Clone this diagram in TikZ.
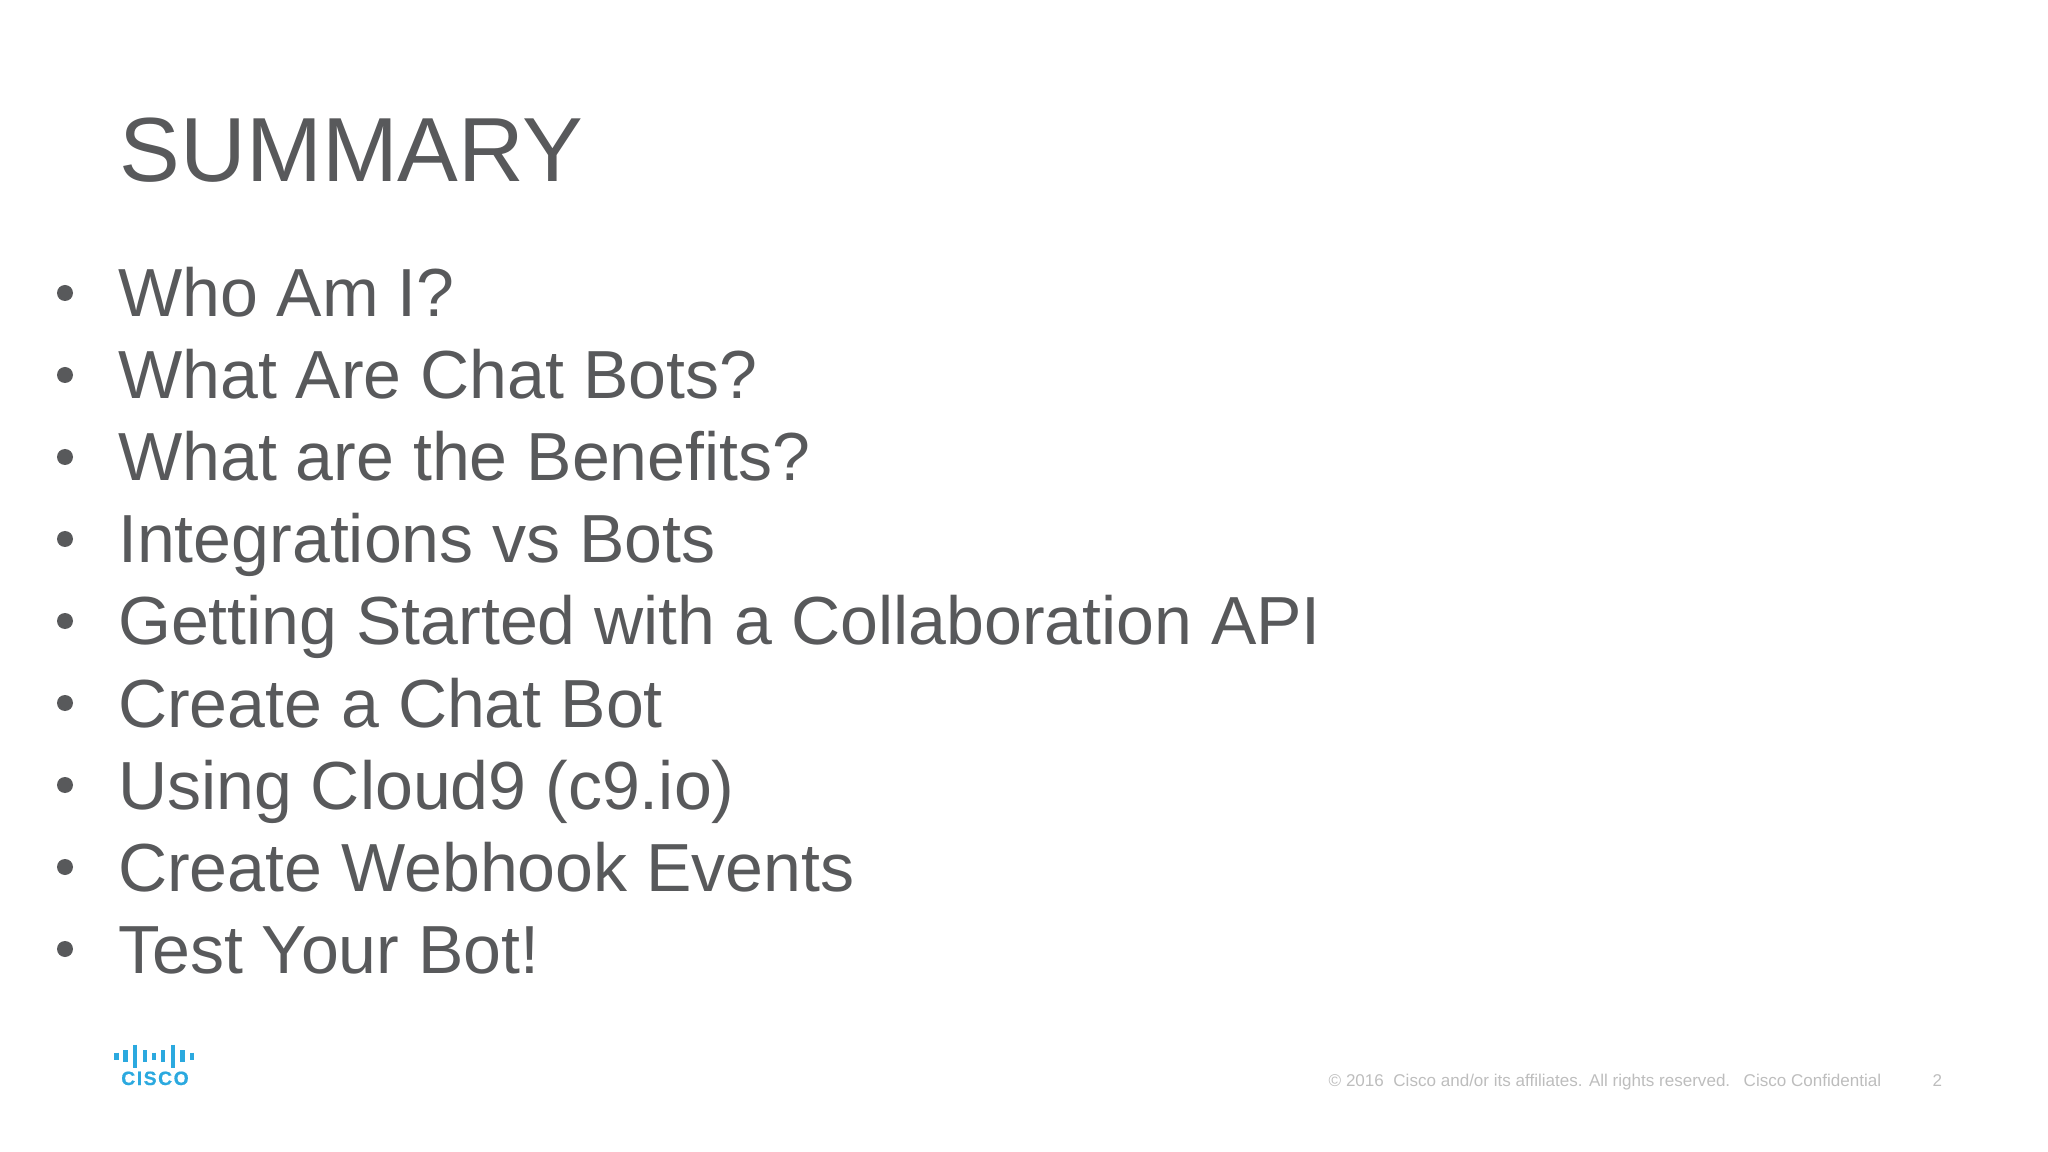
\documentclass[tikz,border=0pt]{standalone}
\usepackage{fontspec}
\setmainfont{Liberation Sans}
\newfontfamily\logofont[LetterSpace=8,FakeBold=0.6]{Liberation Sans Bold}
\definecolor{slidegray}{HTML}{58595B}
\definecolor{footgray}{HTML}{BDBDBD}
\definecolor{ciscoblue}{HTML}{2BA9DF}
\tikzset{
  slidetext/.style={anchor=base west,inner sep=0pt,text=slidegray},
  titletext/.style={slidetext,font=\fontsize{25.9}{30}\selectfont},
  itemtext/.style={slidetext,font=\fontsize{19.35}{24}\selectfont},
  foottext/.style={anchor=base west,inner sep=0pt,text=footgray,font=\fontsize{4.85}{6}\selectfont},
  logobar/.style={line width=1.3pt,color=ciscoblue}
}
\begin{document}
\begin{tikzpicture}[x=0.01cm,y=-0.01cm]
\useasboundingbox (0,0) rectangle (2048,1152);

% Heading
\node[titletext] (title) at (119,181.5) {SUMMARY};

% Bullet list
\foreach \txt [count=\i from 0] in {Who Am I?,What Are Chat Bots?,What are the Benefits?,Integrations vs Bots,Getting Started with a Collaboration API,Create a Chat Bot,Using Cloud9 (c9.io),Create Webhook Events,Test Your Bot!}
{
  \node[itemtext] (item\i) at (117.5,{317+82*\i}) {\txt};
  \fill[slidegray] (65,{293+82*\i}) circle (8) ;
}

% Logo
\foreach \xb/\hb [count=\i] in {116.5/3.5,125.5/6,135/11.5,145/6,154/3.5,163/6,173/11.5,182.5/6,192/3.5}
{
  \draw[logobar] (\xb,1056-\hb) -- (\xb,1056+\hb);
}
\node[anchor=base,inner sep=0pt,text=ciscoblue,font=\fontsize{5.5}{7}\logofont] (logo) at (155,1085) {CISCO};

% Footer
\node[foottext] (copyright) at (1328,1086) {© 2016\ \ Cisco and/or its affiliates. All rights reserved.};
\node[foottext] (confidential) at (1743,1086) {Cisco Confidential};
\node[foottext] (page) at (1932,1086) {2};

\end{tikzpicture}
\end{document}
